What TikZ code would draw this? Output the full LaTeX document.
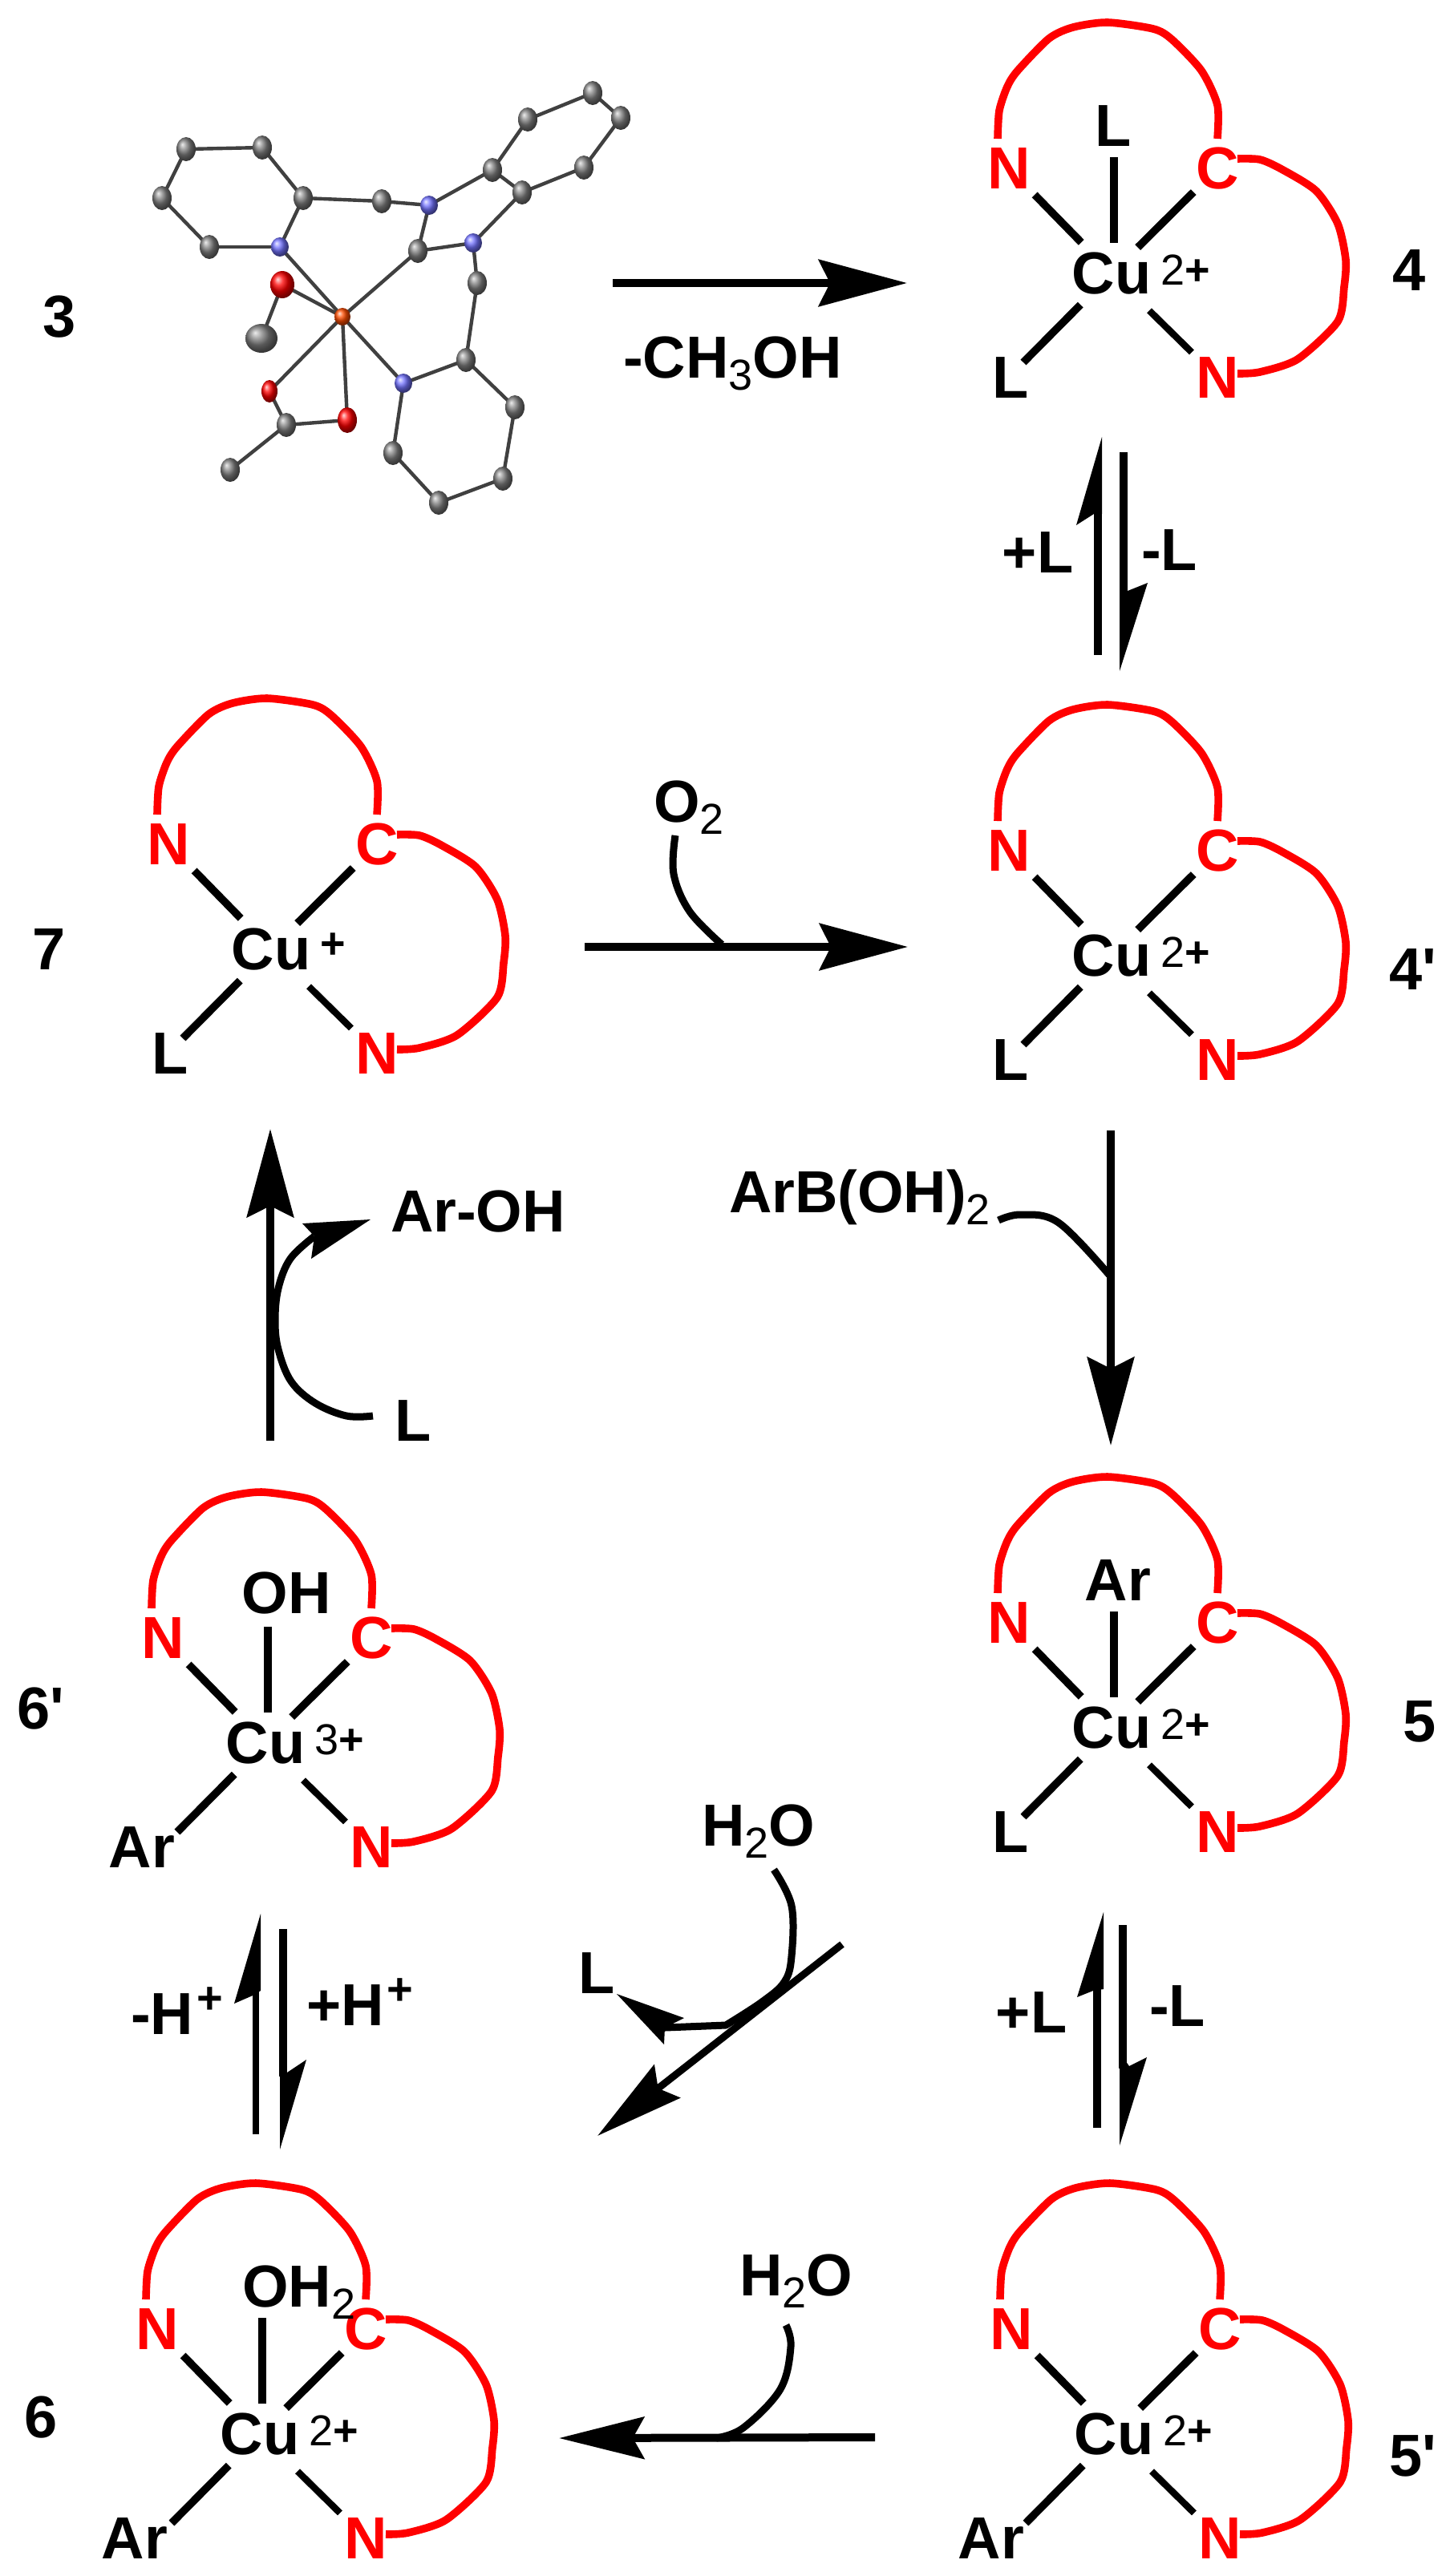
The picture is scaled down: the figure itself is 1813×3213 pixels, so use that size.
\documentclass[tikz,border=0pt]{standalone}
\usepackage{fontspec}
\setmainfont{Liberation Sans}
\newfontfamily\nomapfont{Liberation Sans}
\usetikzlibrary{arrows.meta,shapes.geometric}
\newcommand{\sbt}[1]{\raisebox{-7.5pt}{\fontsize{27}{30}\mdseries\selectfont #1}}
\newcommand{\spt}[1]{\raisebox{13pt}{\fontsize{28}{30}\selectfont\hspace{2pt}#1}}
\newcommand{\chg}[1]{\fontsize{27}{28}\selectfont #1}
\newcommand{\apos}{{\nomapfont '}}
\tikzset{
  txt/.style={inner sep=0pt,outer sep=0pt,text depth=0pt,font=\bfseries\fontsize{37}{40}\selectfont},
  rlab/.style={txt,text=red},
  bondl/.style={line width=4.8pt,black},
  thinb/.style={line width=4.2pt,black},
  ringl/.style={line width=4.8pt,red,line join=round},
  rxn/.style={line width=5pt,black},
  curvel/.style={line width=4.5pt,black,line join=round},
  bighead/.style={-{Stealth[length=55pt,width=29pt,inset=7pt]}},
  xbond/.style={line width=2.2pt,black!75},
  atomg/.style={ellipse,inner sep=0pt,minimum width=12pt,minimum height=15pt,ball color=gray},
  atomb/.style={ellipse,inner sep=0pt,minimum width=11pt,minimum height=12pt,ball color=blue!55!white},
  atomr/.style={ellipse,inner sep=0pt,minimum width=12pt,minimum height=15pt,ball color=red},
  atomcu/.style={ellipse,inner sep=0pt,minimum width=10pt,minimum height=11pt,ball color=orange!60!red},
}
% #1 name, #2 x, #3 y, #4 charge, #5 lower-left label, #6 its x offset, #7 extra code
\newcommand{\complex}[7]{%
 \begin{scope}[shift={(#2,#3)}]
  \node[txt] (#1Cu) at (0,0) {Cu};
  \node[txt,anchor=west] (#1chg) at (61,-4) {\chg{#4}};
  \node[rlab] (#1N) at (-128,-131) {N};
  \node[rlab] (#1C) at (132,-131) {C};
  \node[rlab] (#1M) at (132,130) {N};
  \node[txt] (#1L) at (#6,130) {#5};
  \coordinate (#1e) at (-110,111);
  \coordinate (#1a1) at (-142,-168); \coordinate (#1a2) at (132,-168);
  \coordinate (#1b1) at (157,-143); \coordinate (#1b2) at (157,125);
  \draw[bondl,shorten <=23pt,shorten >=27pt] (#1N.center) -- (#1Cu.center);
  \draw[bondl,shorten <=21pt,shorten >=23pt] (#1C.center) -- (#1Cu.center);
  \draw[bondl,shorten >=27.5pt] (#1e) -- (#1Cu.center);
  \draw[thinb,shorten <=22.5pt,shorten >=33pt] (#1M.center) -- (#1Cu.center);
  \draw[ringl] plot[smooth,tension=.45] coordinates {(#1a1) (-140,-203) (-130,-233) (-117,-253) (-78,-293) (-48,-307) (-5,-313) (52,-305) (75,-292) (112,-253) (132,-210) (#1a2)};
  \draw[ringl] plot[smooth,tension=.45] coordinates {(#1b1) (185,-142) (212,-130) (255,-103) (282,-62) (292,-17) (290,17) (282,60) (232,107) (185,123) (#1b2)};
  #7
 \end{scope}}
% top ligand: #1 name, #2 label, #3 x, #4 y, #5 anchor
\newcommand{\toplig}[5]{%
  \node[txt,anchor=#5] (#1T) at (#3,#4) {#2};
  \coordinate (#1t1) at (3,-145); \coordinate (#1t2) at (3,-38);
  \draw[bondl] (#1t1) -- (#1t2);}
\begin{document}
\begin{tikzpicture}[x=0.5pt,y=-0.5pt]
\path[use as bounding box,fill=white] (0,0) rectangle (1813,3213);

% ---- crystal structure 3
\foreach \n/\x/\y in {c1/232/186,c2/327/184,c3/378/247,c4/202/247,c5/261/308,n1/349/308,c6/476/251,n2/535/256,c7/521/313,n3/590/303,c8/614/212,c9/651/240,c10/658/149,c11/739/116,c12/774/147,c13/728/209,c14/595/353,c15/581/449,n4/503/478,c16/642/508,c17/627/597,c18/547/627,c19/490/565,cu/427/395,o1/352/355,c20/326/422,o2/336/488,o3/433/524,c21/357/530,c22/287/586}
  \coordinate (\n) at (\x,\y);
\foreach \a/\b in {c1/c2,c2/c3,c3/n1,n1/c5,c5/c4,c4/c1,c3/c6,c6/n2,n2/c8,n2/c7,c7/n3,n3/c9,c8/c9,c8/c10,c10/c11,c11/c12,c12/c13,c13/c9,n3/c14,c14/c15,c15/n4,c15/c16,c16/c17,c17/c18,c18/c19,c19/n4,cu/n1,cu/c7,cu/n4,cu/o1,cu/o2,cu/o3,o1/c20,o2/c21,o3/c21,c21/c22}
  \draw[xbond] (\a) -- (\b);
\foreach \n/\x/\y in {c1/232/186,c2/327/184,c3/378/247,c4/202/247,c5/261/308,c6/476/251,c7/521/313,c8/614/212,c9/651/240,c10/658/149,c11/739/116,c12/774/147,c13/728/209,c14/595/353,c15/581/449,c16/642/508,c17/627/597,c18/547/627,c19/490/565,c21/357/530,c22/287/586}
  \node[atomg] (\n) at (\x,\y) {};
\node[atomg,minimum width=20pt,minimum height=18pt] (c20) at (326,422) {};
\foreach \n/\x/\y in {n1/349/308,n2/535/256,n3/590/303,n4/503/478}
  \node[atomb] (\n) at (\x,\y) {};
\node[atomr,minimum width=15pt,minimum height=17pt] (o1) at (352,355) {};
\node[atomr,minimum width=10pt,minimum height=14pt] (o2) at (336,488) {};
\node[atomr,minimum width=12pt,minimum height=16pt] (o3) at (433,524) {};
\node[atomcu] (cu) at (427,395) {};

% ---- complexes
\complex{A}{1386}{341}{{\mdseries 2}+}{L}{-126}{\toplig{A}{L}{2}{-184}{center}}
\complex{B}{1386}{1192}{{\mdseries 2}+}{L}{-126}{}
\complex{C}{338}{1184}{+}{L}{-126}{}
\complex{D}{1386}{2155}{{\mdseries 2}+}{L}{-126}{\toplig{D}{Ar}{8}{-184}{center}}
\complex{E}{1389}{3036}{{\mdseries 2}+}{Ar}{-153}{}
\complex{F}{331}{2174}{{\mdseries 3}+}{Ar}{-154}{\toplig{F}{OH}{26}{-187}{center}}
\complex{G}{324}{3036}{{\mdseries 2}+}{Ar}{-156}{\toplig{G}{OH\sbt{2}}{-22}{-184}{west}}

% ---- compound numbers
\node[txt] (n3l) at (74,395) {3};
\node[txt] (n4l) at (1757,337) {4};
\node[txt] (n4p) at (1762,1209) {4\apos};
\node[txt] (n7l) at (61,1184) {7};
\node[txt] (n5l) at (1770,2147) {5};
\node[txt] (n6p) at (51,2131) {6\apos};
\node[txt] (n6l) at (51,3015) {6};
\node[txt] (n5p) at (1762,3063) {5\apos};

% ---- 3 -> 4
\coordinate (r1s) at (764,353); \coordinate (r1e) at (1131,353);
\draw[rxn,bighead] (r1s) -- (r1e);
\node[txt,anchor=base west] (t1) at (777,471) {-CH\sbt{3}OH};

% ---- 4 <=> 4'
\coordinate (e1a) at (1369,817); \coordinate (e1b) at (1369,640);
\draw[bondl] (e1a) -- (e1b);
\fill (1374,545) -- (1374,641) -- (1364,641) -- (1342,655) -- cycle;
\coordinate (e1c) at (1401,564); \coordinate (e1d) at (1401,740);
\draw[bondl] (e1c) -- (e1d);
\fill (1396,837) -- (1396,720) -- (1406,737) -- (1431,727) -- cycle;
\node[txt] (t2) at (1294,689) {+L};
\node[txt] (t3) at (1458,686) {-L};

% ---- 7 -> 4'
\coordinate (r2s) at (729,1181); \coordinate (r2e) at (1132,1181);
\draw[rxn,bighead] (r2s) -- (r2e);
\coordinate (r2c) at (842,1042); \coordinate (r2d) at (900,1178);
\draw[curvel] plot[smooth,tension=.6] coordinates {(r2c) (840,1090) (860,1137) (r2d)};
\node[txt,anchor=base west] (t4) at (815,1025) {O\sbt{2}};

% ---- 4' -> 5
\coordinate (r3s) at (1385,1410); \coordinate (r3e) at (1385,1803);
\draw[rxn,bighead] (r3s) -- (r3e);
\coordinate (r3c) at (1245,1522); \coordinate (r3d) at (1383,1590);
\draw[curvel] plot[smooth,tension=.6] coordinates {(r3c) (1273,1515) (1320,1525) (r3d)};
\node[txt,anchor=base west] (t5) at (909,1512) {ArB(OH)\sbt{2}};

% ---- 5 <=> 5'
\coordinate (e2a) at (1368,2654); \coordinate (e2b) at (1368,2480);
\draw[bondl] (e2a) -- (e2b);
\fill (1376,2385) -- (1376,2481) -- (1363,2483) -- (1343,2491) -- cycle;
\coordinate (e2c) at (1400,2401); \coordinate (e2d) at (1400,2580);
\draw[bondl] (e2c) -- (e2d);
\fill (1396,2676) -- (1396,2560) -- (1408,2577) -- (1430,2566) -- cycle;
\node[txt] (t6) at (1286,2510) {+L};
\node[txt] (t7) at (1468,2502) {-L};

% ---- 5' -> 6
\coordinate (r4s) at (1091,3040); \coordinate (r4e) at (697,3041);
\draw[rxn,-{Stealth[length=53pt,width=26pt,inset=7pt]}] (r4s) -- (r4e);
\coordinate (r4c) at (980,2900); \coordinate (r4d) at (893,3041);
\draw[curvel] plot[smooth,tension=.6] coordinates {(r4c) (986,2927) (973,2980) (927,3028) (r4d)};
\node[txt,anchor=base west] (t8) at (922,2863) {H\sbt{2}O};

% ---- 6 <=> 6'
\coordinate (e3a) at (319,2662); \coordinate (e3b) at (319,2480);
\draw[thinb] (e3a) -- (e3b);
\fill (325,2387) -- (325,2483) -- (315,2489) -- (292,2499) -- cycle;
\coordinate (e3c) at (353,2406); \coordinate (e3d) at (353,2590);
\draw[bondl] (e3c) -- (e3d);
\fill (349,2681) -- (349,2570) -- (358,2585) -- (382,2569) -- cycle;
\node[txt,anchor=base west] (t9) at (163,2537) {-H\spt{+}};
\node[txt,anchor=base west] (t10) at (382,2526) {+H\spt{+}};

% ---- 6' -> 7 with L / Ar-OH
\coordinate (r5s) at (337,1797); \coordinate (r5e) at (337,1408);
\draw[rxn,bighead] (r5s) -- (r5e);
\coordinate (r5c) at (465,1766); \coordinate (r5d) at (392,1542); \coordinate (r5t) at (462,1521);
\draw[curvel] plot[smooth,tension=.6] coordinates {(r5c) (432,1766) (393,1750) (363,1723) (347,1683) (343,1647) (347,1607) (362,1570) (r5d)};
\fill (r5t) -- (377,1526) -- (r5d) -- (388,1570) -- cycle;
\node[txt,anchor=base west] (t11) at (487,1536) {Ar-OH};
\node[txt,anchor=base west] (t12) at (492,1797) {L};

% ---- middle H2O, L
\coordinate (r6s) at (1050,2425); \coordinate (r6e) at (745,2664);
\draw[rxn,line width=4.5pt,-{Stealth[length=55pt,width=26pt,inset=7pt]}] (r6s) -- (r6e);
\coordinate (r6c) at (965,2332); \coordinate (r6d) at (829,2529); \coordinate (r6t) at (769,2487);
\draw[curvel] plot[smooth,tension=.6] coordinates {(r6c) (987,2377) (987,2440) (978,2472) (950,2497) (905,2526)} -- (r6d);
\fill (r6t) -- (853,2517) -- (r6d) -- (828,2550) -- cycle;
\node[txt,anchor=base west] (t13) at (875,2302) {H\sbt{2}O};
\node[txt,anchor=base west] (t14) at (721,2486) {L};
\end{tikzpicture}
\end{document}
